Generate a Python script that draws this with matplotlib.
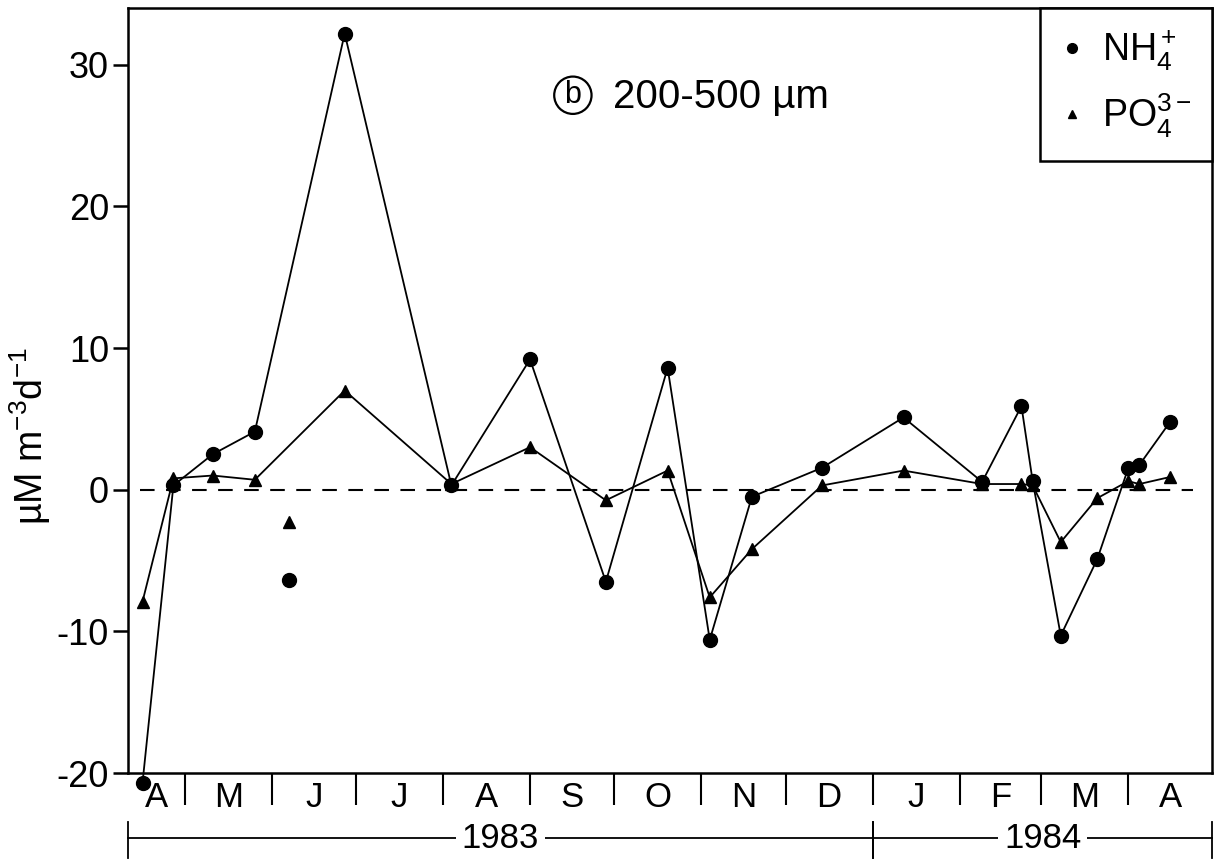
"""Ammonium / phosphate excretion, 200-500 um fraction, 1983-84."""

import datetime as dt

import matplotlib

matplotlib.use("Agg")
import matplotlib.dates as mdates
import matplotlib.pyplot as plt
import matplotlib.transforms as mtransforms
from matplotlib.lines import Line2D

plt.rcParams["font.family"] = ["Liberation Sans", "DejaVu Sans"]
plt.rcParams["mathtext.fontset"] = "custom"
plt.rcParams["mathtext.rm"] = "Liberation Sans"
plt.rcParams["mathtext.it"] = "Liberation Sans"
plt.rcParams["axes.unicode_minus"] = False

# sampling dates (connected series)
dates = [
    "1983-04-16", "1983-04-27", "1983-05-11", "1983-05-26", "1983-06-27",
    "1983-08-04", "1983-09-01", "1983-09-28", "1983-10-20", "1983-11-04",
    "1983-11-19", "1983-12-14", "1984-01-12", "1984-02-09", "1984-02-23",
    "1984-02-27", "1984-03-08", "1984-03-21", "1984-04-01", "1984-04-05",
    "1984-04-16",
]
nh4 = [-20.7, 0.3, 2.5, 4.1, 32.2, 0.3, 9.2, -6.5, 8.6, -10.6, -0.5, 1.55,
       5.1, 0.55, 5.9, 0.6, -10.3, -4.9, 1.5, 1.75, 4.8]
po4 = [-7.9, 0.8, 1.0, 0.7, 7.0, 0.4, 3.0, -0.75, 1.35, -7.6, -4.2, 0.3,
       1.35, 0.4, 0.4, 0.3, -3.7, -0.6, 0.6, 0.4, 0.9]

# isolated measurement, not joined to the series
iso_date = ["1983-06-07"]
iso_nh4 = [-6.4]
iso_po4 = [-2.3]

month_labels = ["A", "M", "J", "J", "A", "S", "O", "N", "D", "J", "F", "M", "A"]
x_start = "1983-04-11"
x_end = "1984-05-01"
zero_from, zero_to = "1983-04-15", "1984-04-24"
year_breaks = [("1983", x_start, "1984-01-01"), ("1984", "1984-01-01", x_end)]


def d(s):
    return dt.datetime.strptime(s, "%Y-%m-%d")


xs = [d(s) for s in dates]

fig = plt.figure(figsize=(12.27, 8.64), dpi=100)
ax = fig.add_axes([0.1047, 0.1053, 0.8834, 0.8854])

ax.hlines(0, d(zero_from), d(zero_to), colors="black",
          linestyles=(0, (7, 5.5)), linewidth=1.5)

ax.plot(xs, nh4, color="black", lw=1.3, marker="o", ms=10, clip_on=False)
ax.plot(xs, po4, color="black", lw=1.3, marker="^", ms=9, clip_on=False)
ax.plot([d(s) for s in iso_date], iso_nh4, "o", color="black", ms=10)
ax.plot([d(s) for s in iso_date], iso_po4, "^", color="black", ms=8)

ax.set_xlim(d(x_start), d(x_end))
ax.set_ylim(-20, 34)
ax.set_yticks([-20, -10, 0, 10, 20, 30])
ax.tick_params(axis="y", labelsize=26, length=11, width=1.8, pad=3)

# month dividers as major ticks, month letters centred as minor ticks
bounds = [d(x_start)] + [d(f"1983-{m:02d}-01") for m in range(5, 13)] + \
         [d(f"1984-{m:02d}-01") for m in range(1, 6)]
ax.set_xticks(bounds[1:-1])
ax.set_xticklabels([])
centres = [a + (b - a) / 2 for a, b in zip(bounds[:-1], bounds[1:])]
ax.set_xticks(centres, minor=True)
ax.set_xticklabels(month_labels, minor=True)
ax.tick_params(axis="x", which="major", length=23, width=1.5, direction="out")
ax.tick_params(axis="x", which="minor", length=0, labelsize=25, pad=6)

for sp in ax.spines.values():
    sp.set_linewidth(1.8)

# year bars below the month axis
trans = mtransforms.blended_transform_factory(ax.transData, ax.transAxes)
for label, a, b in year_breaks:
    xa, xb = mdates.date2num(d(a)), mdates.date2num(d(b))
    ax.plot([xa, xb], [-0.085, -0.085], color="black", lw=1.3,
            transform=trans, clip_on=False)
    for xe in (xa, xb):
        ax.plot([xe, xe], [-0.064, -0.111], color="black", lw=1.3,
                transform=trans, clip_on=False)
    ax.text((xa + xb) / 2, -0.085, label, transform=trans, ha="center",
            va="center", fontsize=25,
            bbox=dict(facecolor="white", edgecolor="none", pad=4))

ax.set_ylabel(r"µM m$^{-3}$d$^{-1}$", fontsize=27)
ax.yaxis.set_label_coords(-0.07, 0.44)

# circled panel letter + size fraction
ax.text(0.41, 0.886, "b", transform=ax.transAxes, ha="center", va="center",
        fontsize=22,
        bbox=dict(boxstyle="circle,pad=0.12", facecolor="none",
                  edgecolor="black", linewidth=1.6))
ax.text(0.447, 0.884, "200-500 µm", transform=ax.transAxes, ha="left",
        va="center", fontsize=29)

handles = [
    Line2D([], [], color="black", marker="o", ls="none", ms=7),
    Line2D([], [], color="black", marker="^", ls="none", ms=6),
]
leg = ax.legend(handles, [r"NH$_4^+$", r"PO$_4^{3-}$"], loc="upper right",
                borderaxespad=0, fontsize=27, fancybox=False, framealpha=1,
                handlelength=0.6, handletextpad=0.5, labelspacing=0.5,
                borderpad=0.55)
leg.get_frame().set_edgecolor("black")
leg.get_frame().set_linewidth(1.8)

fig.savefig("out.png", dpi=100)
